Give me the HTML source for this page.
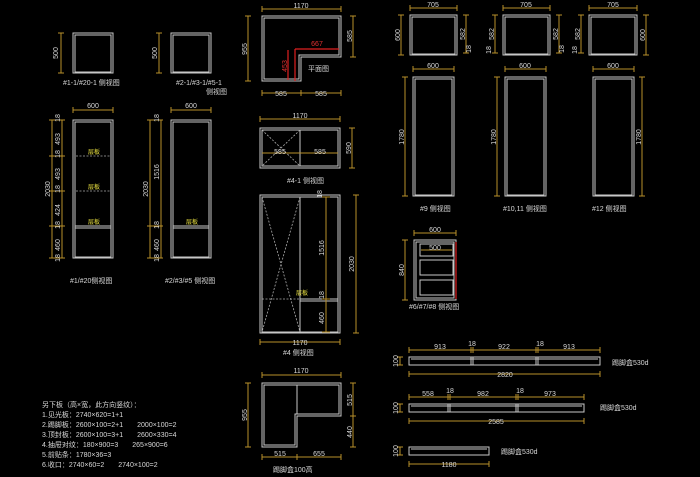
<!DOCTYPE html>
<html><head><meta charset="utf-8"><style>
html,body{margin:0;padding:0;background:#000;width:700px;height:477px;overflow:hidden}
svg{display:block}
text{font-family:"Liberation Sans","Noto Sans CJK SC",sans-serif;font-size:7px;fill:#d8d8d8}
.d{stroke:#b8902a;stroke-width:1;fill:none}
.dt{fill:#d8d8d8;font-size:7px}
.w{stroke:#c8c8c8;stroke-width:1;fill:none}
.ds{stroke:#aaa;stroke-width:.8;fill:none;stroke-dasharray:2 1.5}
.r{stroke:#e02020;stroke-width:1.2;fill:none}
.y{fill:#e8e040;font-size:6px}
</style></head><body>
<svg width="700" height="477" viewBox="0 0 700 477" xmlns="http://www.w3.org/2000/svg">
<!-- #1-1 -->
<rect class="w" x="73" y="33" width="40" height="40"/><rect class="w" x="75" y="35" width="36" height="37"/>
<path class="d" d="M61 33V73M58 33h6M58 73h6"/><text x="58" y="53" transform="rotate(-90 58 53)" text-anchor="middle">500</text>
<text x="63" y="85">#1-1/#20-1 侧视图</text>
<!-- #2-1 -->
<rect class="w" x="171" y="33" width="40" height="40"/><rect class="w" x="173" y="35" width="36" height="37"/>
<path class="d" d="M159 33V73M156 33h6M156 73h6"/><text x="157" y="53" transform="rotate(-90 157 53)" text-anchor="middle">500</text>
<text x="176" y="85">#2-1/#3-1/#5-1</text><text x="206" y="94">侧视图</text>
<!-- #1/#20 tall -->
<path class="d" d="M73 110h40M73 107v6M113 107v6"/><text x="93" y="108" text-anchor="middle">600</text>
<rect class="w" x="73" y="120" width="40" height="138"/><rect class="w" x="75" y="122" width="36" height="135"/>
<path class="ds" d="M76 156h35M76 191h35"/><path class="w" d="M75 226h36M75 228h36"/>
<text class="y" x="88" y="154">层板</text><text class="y" x="88" y="189">层板</text><text class="y" x="88" y="224">层板</text>
<path class="d" d="M52 120V258M62 120V258M49 120h16M49 156h16M49 191h16M49 226h16M49 258h16"/>
<text x="50" y="189" transform="rotate(-90 50 189)" text-anchor="middle">2030</text>
<text x="60" y="139" transform="rotate(-90 60 139)" text-anchor="middle">493</text>
<text x="60" y="118" transform="rotate(-90 60 118)" text-anchor="middle">18</text>
<text x="60" y="154" transform="rotate(-90 60 154)" text-anchor="middle">18</text>
<text x="60" y="174" transform="rotate(-90 60 174)" text-anchor="middle">493</text>
<text x="60" y="189" transform="rotate(-90 60 189)" text-anchor="middle">18</text>
<text x="60" y="210" transform="rotate(-90 60 210)" text-anchor="middle">424</text>
<text x="60" y="225" transform="rotate(-90 60 225)" text-anchor="middle">18</text>
<text x="60" y="245" transform="rotate(-90 60 245)" text-anchor="middle">460</text>
<text x="60" y="258" transform="rotate(-90 60 258)" text-anchor="middle">18</text>
<text x="70" y="283">#1/#20侧视图</text>
<!-- #2 tall -->
<path class="d" d="M171 110h40M171 107v6M211 107v6"/><text x="191" y="108" text-anchor="middle">600</text>
<rect class="w" x="171" y="120" width="40" height="138"/><rect class="w" x="173" y="122" width="36" height="135"/>
<path class="w" d="M173 226h36M173 228h36"/><text class="y" x="186" y="224">层板</text>
<path class="d" d="M150 120V258M161 120V258M147 120h16M147 226h16M147 258h16"/>
<text x="148" y="189" transform="rotate(-90 148 189)" text-anchor="middle">2030</text>
<text x="159" y="118" transform="rotate(-90 159 118)" text-anchor="middle">18</text>
<text x="159" y="172" transform="rotate(-90 159 172)" text-anchor="middle">1516</text>
<text x="159" y="225" transform="rotate(-90 159 225)" text-anchor="middle">18</text>
<text x="159" y="245" transform="rotate(-90 159 245)" text-anchor="middle">460</text>
<text x="159" y="258" transform="rotate(-90 159 258)" text-anchor="middle">18</text>
<text x="165" y="283">#2/#3/#5 侧视图</text>
<!-- plan L -->
<path class="d" d="M262 9h79M262 6v6M341 6v6"/><text x="301" y="8" text-anchor="middle">1170</text>
<path class="w" d="M262 16H341V57H301V81H262Z"/><path class="w" d="M264 18H339V55H299V79H264Z"/>
<path class="d" d="M248 16V81M245 16h6M245 81h6M353 16V57M350 16h6M350 57h6"/>
<text x="247" y="49" transform="rotate(-90 247 49)" text-anchor="middle">955</text>
<text x="352" y="36" transform="rotate(-90 352 36)" text-anchor="middle">585</text>
<path class="d" d="M262 93h79M262 90v6M301 90v6M341 90v6"/>
<text x="281" y="96" text-anchor="middle">585</text><text x="321" y="96" text-anchor="middle">585</text>
<path class="r" d="M295 49H339M295 49V81M288 50V80"/>
<text x="317" y="46" text-anchor="middle" style="fill:#e03030">667</text>
<text x="287" y="66" transform="rotate(-90 287 66)" text-anchor="middle" style="fill:#e03030">453</text>
<text x="308" y="71">平面图</text>
<!-- #4-1 -->
<path class="d" d="M260 119h80M260 116v6M340 116v6"/><text x="300" y="118" text-anchor="middle">1170</text>
<rect class="w" x="260" y="128" width="80" height="40"/><rect class="w" x="262" y="130" width="76" height="36"/>
<path class="w" d="M300 130V166"/><path class="ds" d="M262 130L300 166M300 130L262 166"/>
<path class="d" d="M262 153H338"/><text x="280" y="154" text-anchor="middle">585</text><text x="320" y="154" text-anchor="middle">585</text>
<path class="d" d="M352 128V168M349 128h6M349 168h6"/><text x="351" y="148" transform="rotate(-90 351 148)" text-anchor="middle">590</text>
<text x="287" y="183">#4-1 侧视图</text>
<!-- #4 -->
<rect class="w" x="260" y="195" width="80" height="138"/><rect class="w" x="262" y="197" width="76" height="135"/>
<path class="w" d="M300 197V332M300 299h38M300 301h38"/><path class="ds" d="M262 299h38M262 197L300 332M300 197L262 332"/>
<text class="y" x="296" y="295">层板</text>
<path class="d" d="M326 197V332M322 197h8M322 299h8M322 332h8M356 195V333M353 195h6M353 333h6"/>
<text x="324" y="248" transform="rotate(-90 324 248)" text-anchor="middle">1516</text>
<text x="324" y="295" transform="rotate(-90 324 295)" text-anchor="middle">18</text>
<text x="324" y="318" transform="rotate(-90 324 318)" text-anchor="middle">460</text>
<text x="322" y="194" transform="rotate(-90 322 194)" text-anchor="middle">18</text>
<text x="354" y="264" transform="rotate(-90 354 264)" text-anchor="middle">2030</text>
<path class="d" d="M260 342h80M260 339v6M340 339v6"/><text x="300" y="345" text-anchor="middle">1170</text>
<text x="283" y="355">#4 侧视图</text>
<!-- kick L -->
<path class="d" d="M262 375h79M262 372v6M341 372v6"/><text x="301" y="373" text-anchor="middle">1170</text>
<path class="w" d="M262 383H341V416H297V447H262Z"/><path class="w" d="M264 385H339V414H295V445H264ZM297 385V414"/>
<path class="d" d="M248 383V447M245 383h6M245 447h6M353 383V447M350 383h6M350 416h6M350 447h6"/>
<text x="247" y="415" transform="rotate(-90 247 415)" text-anchor="middle">955</text>
<text x="352" y="400" transform="rotate(-90 352 400)" text-anchor="middle">515</text>
<text x="352" y="432" transform="rotate(-90 352 432)" text-anchor="middle">440</text>
<path class="d" d="M262 457h79M262 454v6M297 454v6M341 454v6"/>
<text x="280" y="456" text-anchor="middle">515</text><text x="319" y="456" text-anchor="middle">655</text>
<text x="273" y="472">踢脚盒100高</text>
<!-- notes -->
<g style="font-size:7.5px">
<text x="42" y="407">另下板（高×宽，此方向竖纹）：</text>
<text x="42" y="417">1.见光板：2740×620=1+1</text>
<text x="42" y="427">2.踢脚板：2600×100=2+1　　2000×100=2</text>
<text x="42" y="437">3.顶封板：2600×100=3+1　　2600×330=4</text>
<text x="42" y="447">4.抽屉对纹：180×900=3　　265×900=6</text>
<text x="42" y="457">5.前贴条：1780×36=3</text>
<text x="42" y="467">6.收口：2740×60=2　　2740×100=2</text>
</g>
<!-- small top boxes -->
<g>
<path class="d" d="M410 8h47M410 5v6M457 5v6"/><text x="433" y="7" text-anchor="middle">705</text>
<rect class="w" x="410" y="15" width="47" height="40"/><rect class="w" x="412" y="17" width="43" height="37"/>
<path class="d" d="M401 15V55M398 15h6M398 55h6M466 15V53M463 15h6M463 53h6"/>
<text x="400" y="35" transform="rotate(-90 400 35)" text-anchor="middle">600</text>
<text x="465" y="34" transform="rotate(-90 465 34)" text-anchor="middle">582</text>
<text x="471" y="49" transform="rotate(-90 471 49)" text-anchor="middle">18</text>
</g>
<g>
<path class="d" d="M503 8h47M503 5v6M550 5v6"/><text x="526" y="7" text-anchor="middle">705</text>
<rect class="w" x="503" y="15" width="47" height="40"/><rect class="w" x="505" y="17" width="43" height="37"/>
<path class="d" d="M495 15V53M492 15h6M492 53h6M559 15V53M556 15h6M556 53h6"/>
<text x="494" y="34" transform="rotate(-90 494 34)" text-anchor="middle">582</text>
<text x="558" y="34" transform="rotate(-90 558 34)" text-anchor="middle">582</text>
<text x="491" y="50" transform="rotate(-90 491 50)" text-anchor="middle">18</text>
<text x="564" y="49" transform="rotate(-90 564 49)" text-anchor="middle">18</text>
</g>
<g>
<path class="d" d="M589 8h48M589 5v6M637 5v6"/><text x="613" y="7" text-anchor="middle">705</text>
<rect class="w" x="589" y="15" width="48" height="40"/><rect class="w" x="591" y="17" width="44" height="37"/>
<path class="d" d="M581 15V53M578 15h6M578 53h6M646 15V55M643 15h6M643 55h6"/>
<text x="580" y="34" transform="rotate(-90 580 34)" text-anchor="middle">582</text>
<text x="645" y="35" transform="rotate(-90 645 35)" text-anchor="middle">600</text>
<text x="577" y="50" transform="rotate(-90 577 50)" text-anchor="middle">18</text>
</g>
<!-- tall right -->
<path class="d" d="M413 69h41M413 66v6M454 66v6M505 69h41M505 66v6M546 66v6M593 69h41M593 66v6M634 66v6"/>
<text x="433" y="68" text-anchor="middle">600</text><text x="525" y="68" text-anchor="middle">600</text><text x="613" y="68" text-anchor="middle">600</text>
<rect class="w" x="413" y="77" width="41" height="119"/><rect class="w" x="415" y="79" width="37" height="116"/>
<rect class="w" x="505" y="77" width="41" height="119"/><rect class="w" x="507" y="79" width="37" height="116"/>
<rect class="w" x="593" y="77" width="41" height="119"/><rect class="w" x="595" y="79" width="37" height="116"/>
<path class="d" d="M405 77V196M402 77h6M402 196h6M497 77V196M494 77h6M494 196h6M642 77V196M639 77h6M639 196h6"/>
<text x="404" y="137" transform="rotate(-90 404 137)" text-anchor="middle">1780</text>
<text x="496" y="137" transform="rotate(-90 496 137)" text-anchor="middle">1780</text>
<text x="641" y="137" transform="rotate(-90 641 137)" text-anchor="middle">1780</text>
<text x="420" y="211">#9 侧视图</text><text x="503" y="211">#10,11 侧视图</text><text x="592" y="211">#12 侧视图</text>
<!-- #6 -->
<path class="d" d="M414 233h42M414 230v6M456 230v6"/><text x="435" y="232" text-anchor="middle">600</text>
<rect class="w" x="414" y="240" width="42" height="60"/><path class="w" d="M416 242H454V298H416Z"/>
<rect class="w" x="420" y="244" width="33" height="12"/><rect class="w" x="420" y="260" width="33" height="15"/><rect class="w" x="420" y="280" width="33" height="15"/>
<path class="r" d="M456 242V299"/>
<path class="d" d="M421 250H452"/><text x="435" y="250" text-anchor="middle">500</text>
<path class="d" d="M405 240V300M402 240h6M402 300h6"/><text x="404" y="270" transform="rotate(-90 404 270)" text-anchor="middle">840</text>
<text x="409" y="309">#6/#7/#8 侧视图</text>
<!-- strip 1 -->
<path class="d" d="M409 350h191M409 347v6M471 347v6M473 347v6M536 347v6M538 347v6M600 347v6"/>
<text x="440" y="349" text-anchor="middle">913</text><text x="472" y="346" text-anchor="middle">18</text><text x="504" y="349" text-anchor="middle">922</text><text x="540" y="346" text-anchor="middle">18</text><text x="569" y="349" text-anchor="middle">913</text>
<rect class="w" x="409" y="357" width="191" height="8"/><path class="w" d="M411 359H598M471 357v8M473 357v8M536 357v8M538 357v8"/>
<path class="d" d="M400 357v8M397 357h6M397 365h6M409 374h191M409 371v6M600 371v6"/>
<text x="398" y="361" transform="rotate(-90 398 361)" text-anchor="middle">100</text>
<text x="505" y="377" text-anchor="middle">2820</text>
<text x="612" y="365">踢脚盒530d</text>
<!-- strip 2 -->
<path class="d" d="M409 397h175M409 394v6M448 394v6M450 394v6M516 394v6M518 394v6M584 394v6"/>
<text x="428" y="396" text-anchor="middle">558</text><text x="450" y="393" text-anchor="middle">18</text><text x="483" y="396" text-anchor="middle">982</text><text x="520" y="393" text-anchor="middle">18</text><text x="550" y="396" text-anchor="middle">973</text>
<rect class="w" x="409" y="404" width="175" height="8"/><path class="w" d="M411 406H582M448 404v8M450 404v8M516 404v8M518 404v8"/>
<path class="d" d="M400 404v8M397 404h6M397 412h6M409 421h175M409 418v6M584 418v6"/>
<text x="398" y="408" transform="rotate(-90 398 408)" text-anchor="middle">100</text>
<text x="496" y="424" text-anchor="middle">2585</text>
<text x="600" y="410">踢脚盒530d</text>
<!-- strip 3 -->
<rect class="w" x="409" y="447" width="80" height="8"/><path class="w" d="M411 449H487"/>
<path class="d" d="M400 447v8M397 447h6M397 455h6M409 464h80M409 461v6M489 461v6"/>
<text x="398" y="451" transform="rotate(-90 398 451)" text-anchor="middle">100</text>
<text x="449" y="467" text-anchor="middle">1180</text>
<text x="501" y="454">踢脚盒530d</text>
</svg>
</body></html>
